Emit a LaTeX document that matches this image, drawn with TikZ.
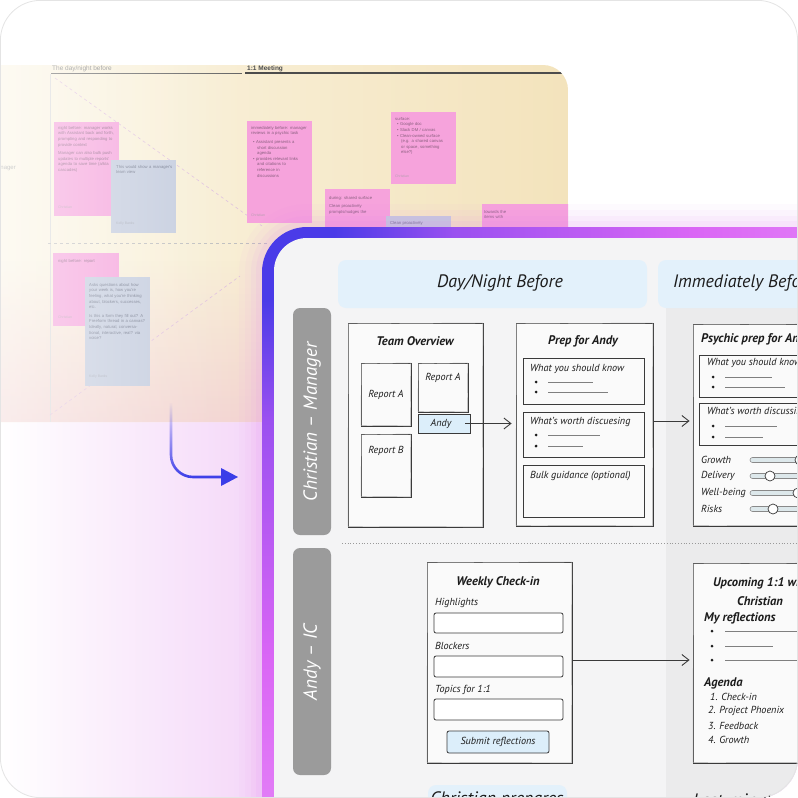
\documentclass[tikz,border=0pt]{standalone}
\usepackage{fontspec}
\setmainfont{PT Sans}
\newfontfamily\boardfont{Liberation Sans}
\usetikzlibrary{fadings,arrows.meta,calc}
\definecolor{ink}{HTML}{3A3A3A}
\definecolor{txt}{HTML}{1C1C1C}
\definecolor{panelbg}{HTML}{F4F4F5}
\definecolor{colbg}{HTML}{EBEBEC}
\definecolor{hdrbg}{HTML}{E3F1FB}
\definecolor{lanebg}{HTML}{9B9B9B}
\definecolor{btnbg}{HTML}{DCEEFA}
\definecolor{boxfill}{HTML}{FAFAFA}
\definecolor{notepink}{HTML}{F6A3DC}
\definecolor{noteblue}{HTML}{C4CCDE}
\definecolor{pinktext}{HTML}{8A5F7F}
\definecolor{bluetext}{HTML}{6D7488}
\definecolor{boardL}{HTML}{FBF5E4}
\definecolor{boardR}{HTML}{F3E3BC}
\definecolor{boardpink}{HTML}{F2CFD2}
\definecolor{lowpink}{HTML}{F4D6F8}
\definecolor{glow}{HTML}{E27AF6}
\definecolor{arrowblue}{HTML}{3B3DE8}
\definecolor{trackfill}{HTML}{DDE8EB}
\definecolor{cardline}{HTML}{E4E4E4}
\definecolor{c1}{HTML}{4A3BE8}
\definecolor{c2}{HTML}{9A50F0}
\definecolor{c3}{HTML}{DA66F5}
\definecolor{c4}{HTML}{E78CF7}
\definecolor{c5}{HTML}{EFB6F9}
\definecolor{c6}{HTML}{F8E2FB}
\pgfdeclareradialshading{panelring}{\pgfpointorigin}{color(0bp)=(c1); color(3bp)=(c1); color(8bp)=(c2); color(18bp)=(c3); color(28bp)=(c4); color(37bp)=(c5); color(46bp)=(c6); color(75bp)=(c6)}
\tikzset{
 sk/.style={draw=ink, line width=0.85pt, fill=boxfill, inner sep=0pt},
 skx/.style={draw=ink!45, line width=0.45pt},
 hand/.style={font=\itshape\fontsize{10.2}{12}\selectfont, text=txt, inner sep=0pt},
 handb/.style={font=\bfseries\itshape\fontsize{12.5}{15}\selectfont, text=txt, inner sep=0pt},
 hdrtext/.style={font=\itshape\fontsize{18}{21}\selectfont, text=txt, inner sep=0pt},
 lanetext/.style={font=\itshape\fontsize{19}{22}\selectfont, text=white, rotate=90, inner sep=0pt},
 arr/.style={draw=ink, line width=0.9pt, -{Straight Barb[length=7pt,width=11pt]}},
 ntext/.style={font=\boardfont\fontsize{4.2}{5.6}\selectfont, text width=#1, align=left, inner sep=0pt, anchor=north west},
 bul/.style={circle, fill=txt, inner sep=0pt, minimum size=3pt},
 sline/.style={draw=ink!65, line width=0.6pt},
 inp/.style={draw=ink, line width=0.8pt, fill=white, rounded corners=2pt, inner sep=0pt},
 track/.style={draw=ink!60, line width=0.6pt, fill=trackfill, rounded corners=2.5pt},
 knob/.style={circle, draw=ink, line width=0.7pt, fill=white, minimum size=10pt, inner sep=0pt},
}
% sketchy second stroke along a box node
\newcommand\sketchy[1]{\draw[skx] ([shift={(0.8pt,-1.2pt)}]#1.north west) -- ([shift={(-0.6pt,-0.4pt)}]#1.north east) -- ([shift={(-1.1pt,0.6pt)}]#1.south east) -- ([shift={(0.5pt,1pt)}]#1.south west) -- cycle;}
\begin{document}
\begin{tikzpicture}[x=1pt,y=-1pt]
\useasboundingbox (0,0) rectangle (798,798);
\begin{scope}
\clip[rounded corners=40pt] (0,0) rectangle (798,798);
\fill[white] (0,0) rectangle (798,798);
% lower-left glow
\shade[left color=white, right color=lowpink] (0,420) rectangle (270,798);
% ---------- background board ----------
\begin{scope}
\clip (0,65) -- (543,65) arc[start angle=-90,end angle=0,radius=25] -- (568,422) -- (0,422) -- cycle;
\shade[left color=boardL, right color=boardR] (0,65) rectangle (568,422);
\fill[boardpink, path fading=north, opacity=0.8] (0,260) rectangle (568,422);
% headers
\node[anchor=base west, font=\boardfont\fontsize{6.5}{7}\selectfont, text=black!50, inner sep=0pt] (hdA) at (52,70) {The day/night before};
\node[anchor=base west, font=\boardfont\bfseries\fontsize{6.5}{7}\selectfont, text=black!70, inner sep=0pt] (hdB) at (247,70) {1:1 Meeting};
\draw[black!60, line width=1pt] (51,73) -- (242,73);
\draw[black!70, line width=1.2pt] (245,73) -- (568,73);
\draw[black!15, line width=0.5pt] (50,74) -- (50,422);
\draw[black!25, line width=0.6pt, dashed] (48,243) -- (270,243);
\node[anchor=east, font=\boardfont\fontsize{6}{7}\selectfont, text=black!40, inner sep=0pt] (mgr) at (16,168) {Manager};
\draw[violet!25, line width=0.6pt, dashed] (55,78) -- (262,226);
\draw[violet!25, line width=0.6pt, dashed] (50,415) -- (240,276);
% sticky notes
\fill[notepink] (54,122) rectangle (119,216);
\node[ntext=58pt, text=pinktext] (n1) at (58,126) {night before: manager works with Assistant back and forth, prompting and responding to provide context\\[3pt]Manager can also bulk push updates to multiple reports' agenda to save time (a/k/a cascades)};
\node[anchor=west, font=\boardfont\fontsize{3.5}{4}\selectfont, text=pinktext!60, inner sep=0pt] (n1f) at (58,207) {Christian};
\fill[noteblue] (111,160) rectangle (176,233);
\node[ntext=58pt, text=bluetext] (n2) at (116,165) {This would show a manager's team view};
\node[anchor=west, font=\boardfont\fontsize{3.5}{4}\selectfont, text=bluetext!60, inner sep=0pt] (n2f) at (116,224) {Kelly Banks};
\fill[notepink] (247,121) rectangle (312,223);
\node[ntext=58pt, text=pinktext] (n3) at (251,126) {immediately before: manager reviews in a psychic task\\[3pt]
\hspace*{2pt}• Assistant presents a\\\hspace*{6pt}short discussion\\\hspace*{6pt}agenda\\
\hspace*{2pt}• provides relevant links\\\hspace*{6pt}and citations to\\\hspace*{6pt}reference in\\\hspace*{6pt}discussions};
\node[anchor=west, font=\boardfont\fontsize{3.5}{4}\selectfont, text=pinktext!60, inner sep=0pt] (n3f) at (251,215) {Christian};
\fill[notepink] (325,189) rectangle (390,262);
\node[ntext=58pt, text=pinktext] (n4) at (329,196) {during: shared surface\\[3pt]Clean proactively prompts/nudges the};
\fill[noteblue] (386,216) rectangle (451,262);
\node[ntext=58pt, text=bluetext] (n5) at (390,221) {Clean proactively};
\fill[notepink] (391,112) rectangle (456,184);
\node[ntext=58pt, text=pinktext] (n6) at (395,117) {surface:\\
\hspace*{2pt}• Google doc\\
\hspace*{2pt}• Slack DM / canvas\\
\hspace*{2pt}• Clean-owned surface\\\hspace*{6pt}(e.g. a shared canvas\\\hspace*{6pt}or space, something\\\hspace*{6pt}else?)};
\node[anchor=west, font=\boardfont\fontsize{3.5}{4}\selectfont, text=pinktext!60, inner sep=0pt] (n6f) at (395,176) {Christian};
\fill[notepink] (482,204) rectangle (575,262);
\node[ntext=80pt, text=pinktext] (n7) at (484,210) {towards the\\items with};
\fill[notepink] (53,253) rectangle (119,326);
\node[ntext=58pt, text=pinktext] (n8) at (58,259) {night before: report};
\node[anchor=west, font=\boardfont\fontsize{3.5}{4}\selectfont, text=pinktext!60, inner sep=0pt] (n8f) at (58,317) {Christian};
\fill[noteblue] (85,277) rectangle (150,386);
\node[ntext=56pt, text=bluetext] (n9) at (89,283) {Asks questions about how your week is, how you're feeling, what you're thinking about, blockers, successes, etc.\\[3pt]Is this a form they fill out? A Freeform thread in a canvas? Ideally, natural, conversational, interactive, real? via voice?};
\node[anchor=west, font=\boardfont\fontsize{3.5}{4}\selectfont, text=bluetext!60, inner sep=0pt] (n9f) at (89,377) {Kelly Banks};
% left fade
\fill[white, path fading=east, opacity=0.55] (0,65) rectangle (240,422);
\end{scope}
% blue arrow
\coordinate (ba0) at (171,403);
\coordinate (ba1) at (171,477);
\coordinate (ba2) at (226,477);
\draw[arrowblue, line width=2.6pt, rounded corners=22pt, path fading=north] (ba0) -- (ba1) -- (ba2);
\fill[arrowblue] (221,468) -- (238,477) -- (221,486) -- cycle;
% ---------- panel glow ----------
\foreach \w/\o in {46/0.035, 34/0.045, 22/0.06, 12/0.08} {
  \draw[glow, line width=\w pt, opacity=\o, rounded corners=45pt] (262,227) rectangle (900,900);
}
% panel border
\begin{scope}
\clip[rounded corners=45pt] (262,227) rectangle (900,900);
\shade[shading=panelring] (-338,-373) rectangle (862,827);
\end{scope}
\fill[panelbg, rounded corners=33pt] (274,238) rectangle (900,900);
\fill[colbg] (666,307) rectangle (820,820);
% headers
\fill[hdrbg, rounded corners=8pt] (338,260) rectangle (647,308);
\node[hdrtext] (h1) at (500,283) {Day/Night Before};
\fill[hdrbg, rounded corners=8pt] (658,260) rectangle (860,308);
\node[hdrtext, anchor=west] (h2) at (673,283) {Immediately Before};
% lanes
\fill[lanebg, rounded corners=7pt] (293,308) rectangle (331,535);
\node[lanetext] (l1) at (312,422) {Christian – Manager};
\fill[lanebg, rounded corners=7pt] (293,548) rectangle (331,775);
\node[lanetext] (l2) at (312,662) {Andy – IC};
\draw[black!40, line width=0.8pt, dotted] (342,543) -- (798,543);
% ---------- Team overview ----------
\node[sk, minimum width=135pt, minimum height=204pt] (team) at (415.5,425) {};
\sketchy{team}
\node[handb] (teamt) at (415,341) {Team Overview};
\node[sk, minimum width=50pt, minimum height=63pt] (repA1) at (386,394.5) {};
\sketchy{repA1}
\node[hand] at (386,395) {Report A};
\node[sk, minimum width=50pt, minimum height=49pt] (repA2) at (443,387.5) {};
\sketchy{repA2}
\node[hand] at (443,378) {Report A};
\node[sk, fill=btnbg, minimum width=52pt, minimum height=19pt] (andy) at (444,423.5) {};
\node[hand] at (441,423.5) {Andy};
\node[sk, minimum width=50pt, minimum height=63pt] (repB) at (386,465.5) {};
\sketchy{repB}
\node[hand] at (386,451) {Report B};
% ---------- Prep for Andy ----------
\node[sk, minimum width=137pt, minimum height=203pt] (prep) at (584.5,424.5) {};
\sketchy{prep}
\node[handb] (prept) at (583,341) {Prep for Andy};
\node[sk, minimum width=121pt, minimum height=46pt] (p1) at (583.5,381) {};
\node[hand, anchor=west] at (530,369) {What you should know};
\node[bul] at (536,382) {}; \draw[sline] (548,382) -- (593,382);
\node[bul] at (536,392) {}; \draw[sline] (548,392) -- (608,392);
\node[sk, minimum width=121pt, minimum height=45pt] (p2) at (583.5,434.5) {};
\node[hand, anchor=west] at (530,422) {What's worth discuesing};
\node[bul] at (536,435) {}; \draw[sline] (548,435) -- (600,435);
\node[bul] at (536,446) {}; \draw[sline] (548,446) -- (583,446);
\node[sk, minimum width=121pt, minimum height=52pt] (p3) at (583.5,491) {};
\node[hand, anchor=west] at (530,476) {Bulk guidance (optional)};
\draw[arr, shorten <=-5pt, shorten >=4pt] (andy.east) -- (andy.east -| prep.west);
% ---------- Psychic prep ----------
\node[sk, minimum width=147pt, minimum height=202pt] (psy) at (766.5,425) {};
\sketchy{psy}
\node[handb, anchor=west] (psyt) at (701,339) {Psychic prep for Andy};
\node[sk, minimum width=131pt, minimum height=42pt] (s1) at (764.5,376) {};
\node[hand, anchor=west] at (707,363) {What you should know};
\node[bul] at (713,377) {}; \draw[sline] (725,377) -- (772,377);
\node[bul] at (713,387) {}; \draw[sline] (725,387) -- (785,387);
\node[sk, minimum width=131pt, minimum height=42pt] (s2) at (764.5,424) {};
\node[hand, anchor=west] at (707,412) {What's worth discussing};
\node[bul] at (713,426) {}; \draw[sline] (725,426) -- (777,426);
\node[bul] at (713,437) {}; \draw[sline] (725,437) -- (763,437);
\foreach \lab/\yy/\kx in {Growth/460/800, Delivery/476/770, Well-being/493/798, Risks/509/773} {
  \node[hand, anchor=west] at (701,\yy) {\lab};
  \draw[track] (750,\yy-2.5) rectangle (830,\yy+2.5);
  \node[knob] at (\kx,\yy) {};
}
\draw[arr, shorten >=3pt] ([yshift=3.5pt]prep.east) -- ([yshift=3.5pt]prep.east -| psy.west);
% ---------- Weekly check-in ----------
\node[sk, minimum width=145pt, minimum height=201pt] (weekly) at (499.5,662.5) {};
\sketchy{weekly}
\node[handb] (weeklyt) at (498,582) {Weekly Check-in};
\node[hand, anchor=west] at (435,603) {Highlights};
\node[inp, minimum width=129pt, minimum height=20pt] (in1) at (498.5,623) {};
\node[hand, anchor=west] at (435,646) {Blockers};
\node[inp, minimum width=129pt, minimum height=21pt] (in2) at (498.5,666.5) {};
\node[hand, anchor=west] at (435,690) {Topics for 1:1};
\node[inp, minimum width=129pt, minimum height=21pt] (in3) at (498.5,709.5) {};
\node[inp, fill=btnbg, minimum width=102pt, minimum height=22pt] (btn) at (498,742) {};
\node[hand] at (498,742) {Submit reflections};
% ---------- Upcoming ----------
\node[sk, minimum width=147pt, minimum height=200pt] (upc) at (766.5,663) {};
\sketchy{upc}
\node[handb, anchor=west] (upct) at (713,583) {Upcoming 1:1 with};
\node[handb] at (760,601) {Christian};
\node[handb, anchor=west] at (704,618) {My reflections};
\node[bul] at (712,631) {}; \draw[sline] (725,631) -- (800,631);
\node[bul] at (712,646) {}; \draw[sline] (725,646) -- (773,646);
\node[bul] at (712,660) {}; \draw[sline] (725,660) -- (800,660);
\node[handb, anchor=west] at (704,683) {Agenda};
\node[hand, anchor=west] at (710,697) {1. Check-in};
\node[hand, anchor=west] at (708,711) {2. Project Phoenix};
\node[hand, anchor=west] at (708,726) {3. Feedback};
\node[hand, anchor=west] at (708,740) {4. Growth};
\draw[arr, shorten >=3pt] ([yshift=2.5pt]weekly.east) -- ([yshift=2.5pt]weekly.east -| upc.west);
% ---------- bottom headers ----------
\fill[hdrbg, rounded corners=8pt] (428,785) rectangle (567,830);
\node[hdrtext] (h3) at (497,800) {Christian prepares};
\node[hdrtext, anchor=west] (h4) at (693,800) {Last-minute};
\end{scope}
\draw[cardline, line width=0.8pt, rounded corners=40pt] (0.4,0.4) rectangle (797.6,797.6);
\end{tikzpicture}
\end{document}
